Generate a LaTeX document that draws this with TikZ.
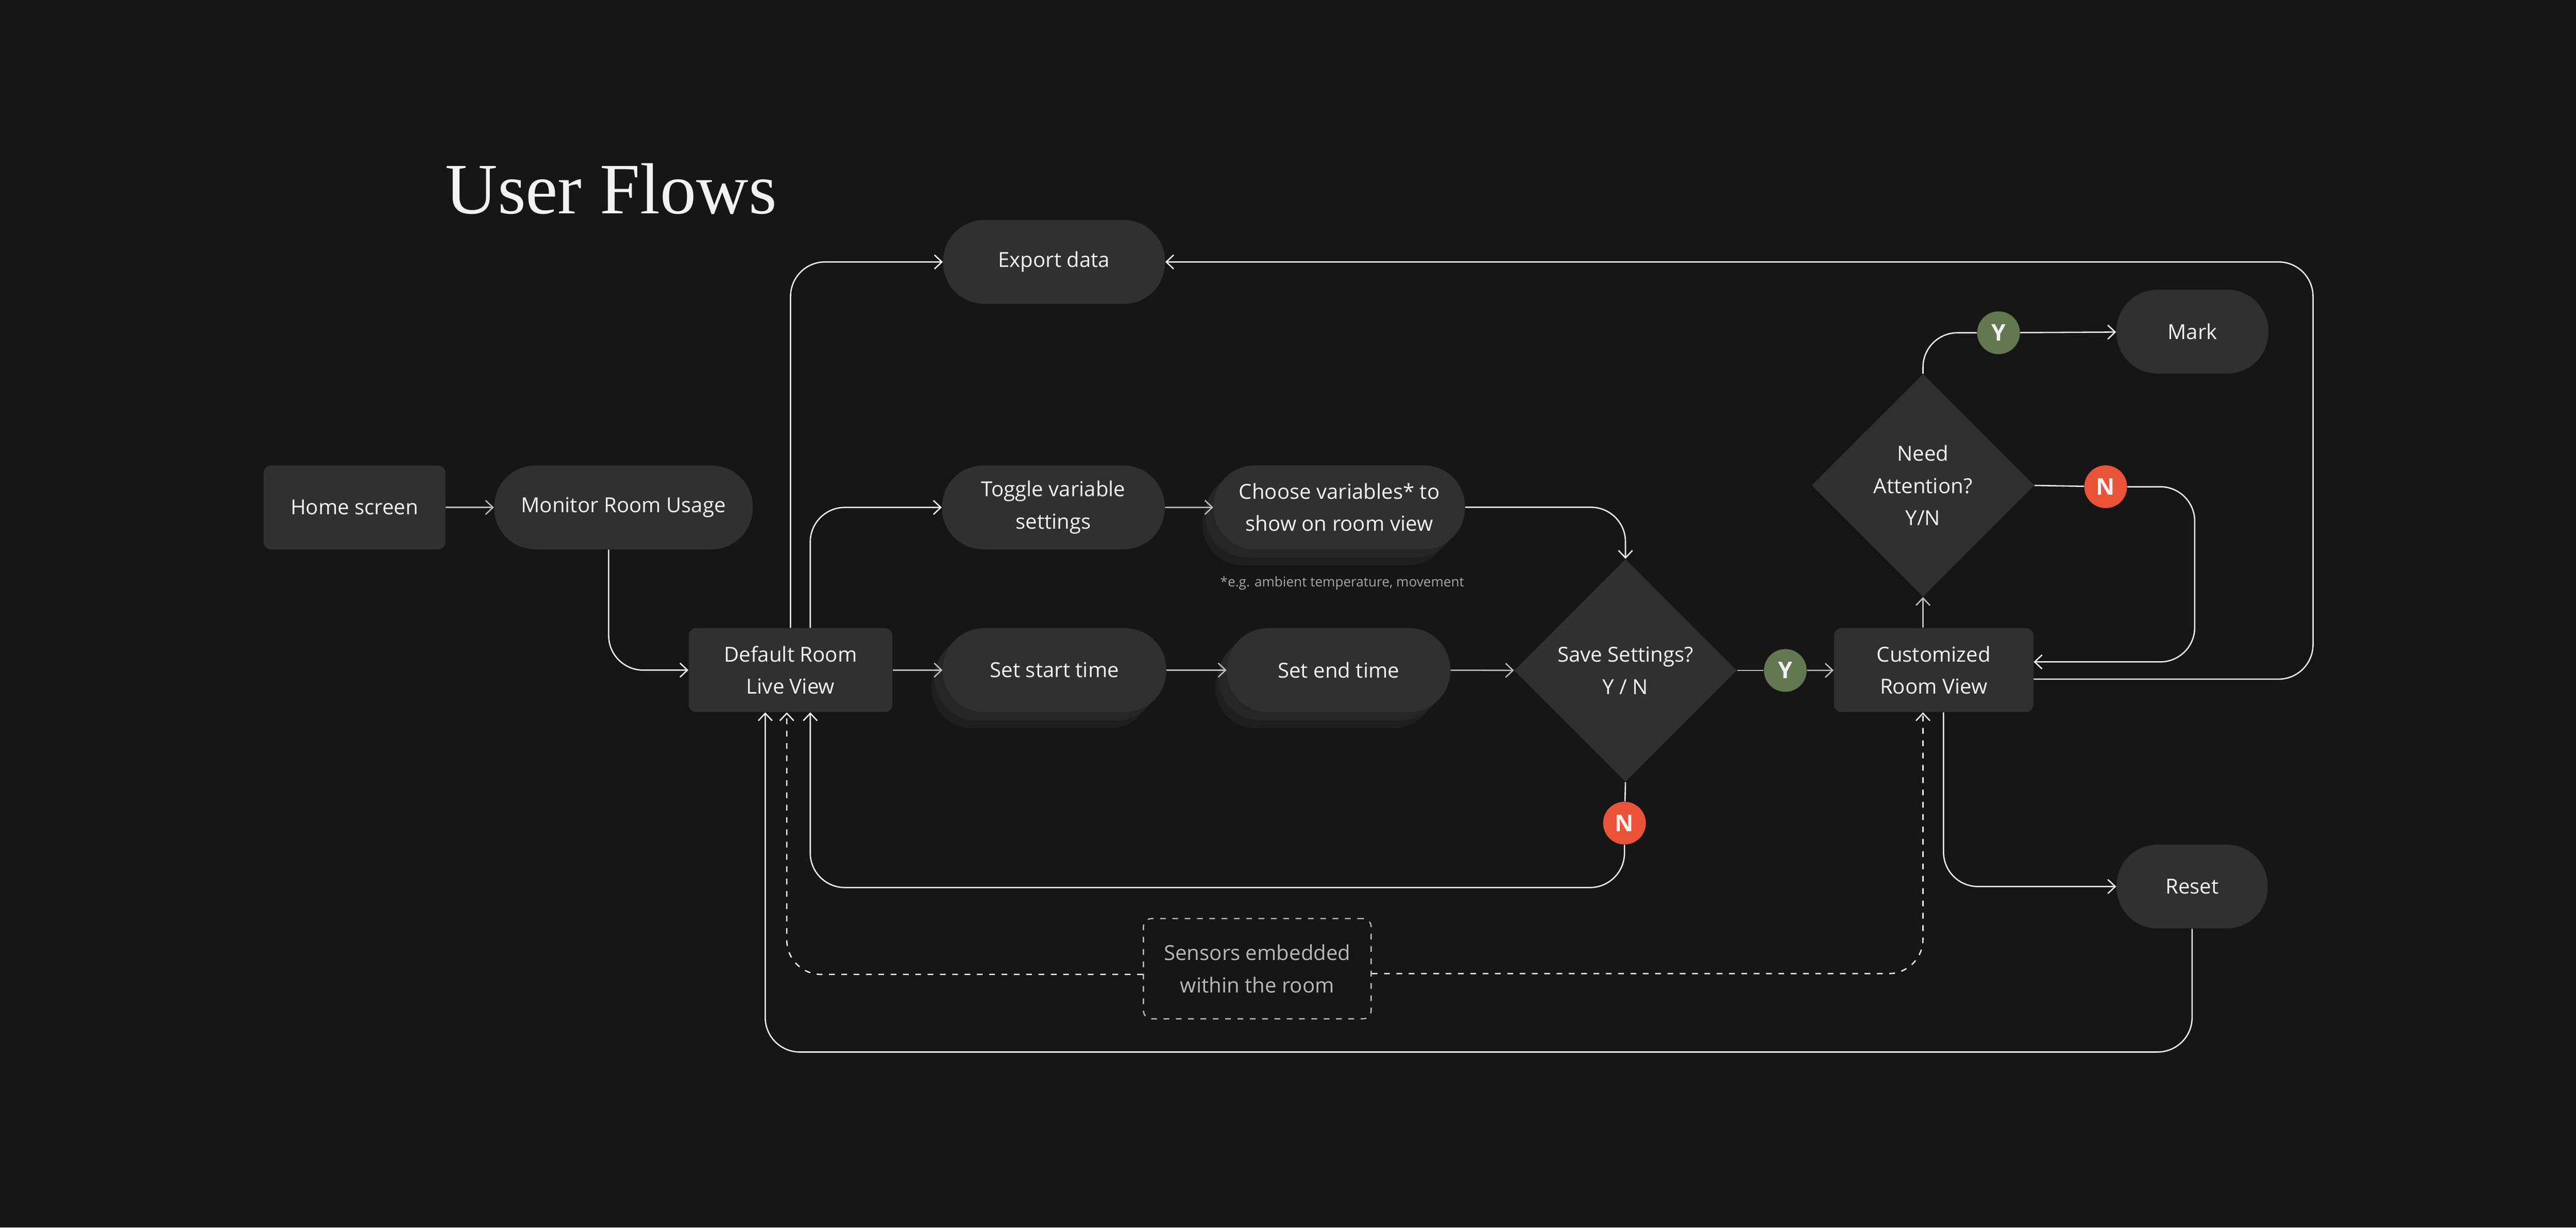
\documentclass[tikz,border=0pt]{standalone}
\usepackage{fontspec}
\setmainfont{Open Sans}
\newfontfamily\titlefont{Liberation Serif}
\usetikzlibrary{arrows.meta,shapes.geometric,shadows}
\definecolor{bg}{HTML}{161616}
\definecolor{nodefill}{HTML}{303030}
\definecolor{shadeA}{HTML}{262626}
\definecolor{shadeB}{HTML}{1F1F1F}
\definecolor{linewhite}{HTML}{F0F0F0}
\definecolor{linegray}{HTML}{BDBDBD}
\definecolor{textwhite}{HTML}{F2F2F2}
\definecolor{dashgray}{HTML}{BEBEBE}
\definecolor{sensorgray}{HTML}{B8B8B8}
\definecolor{notegray}{HTML}{A6A6A6}
\definecolor{yesgreen}{HTML}{637850}
\definecolor{nored}{HTML}{EA5338}
\begin{document}
\begin{tikzpicture}[x=1pt,y=-1pt,
  >={Straight Barb[length=4.5pt,width=8.5pt]},
  every node/.style={text=textwhite,font=\fontsize{12.6}{19.6}\selectfont,align=center,inner sep=0pt},
  box/.style={fill=nodefill,rounded corners=4.5pt,minimum height=51pt},
  pill/.style={fill=nodefill,rounded corners=25pt,minimum height=51pt},
  stack/.style={general shadow={shadow xshift=-8.5pt,shadow yshift=-10.5pt,shadow scale=0.98,fill=shadeB},
    general shadow={shadow xshift=-5pt,shadow yshift=-5pt,fill=shadeA}},
  choice/.style={diamond,fill=nodefill,minimum width=135.5pt,minimum height=135.5pt},
  yes/.style={circle,fill=yesgreen,minimum size=26pt,font=\fontsize{14}{14}\selectfont\bfseries},
  no/.style={circle,fill=nored,minimum size=26pt,font=\fontsize{14}{14}\selectfont\bfseries},
  wline/.style={draw=linewhite,line width=0.8pt,rounded corners=21pt},
  gline/.style={draw=linegray,line width=0.8pt},
  dline/.style={draw=linewhite,line width=0.8pt,dash pattern=on 3.5pt off 4pt,rounded corners=21pt}]
\fill[bg] (0,0) rectangle (1568,747);
\node[anchor=base west,font=\titlefont\fontsize{44}{44}\selectfont] (title) at (271,130) {User Flows};
\node[box,minimum width=110.7pt] (home) at (215.8,308.8) {Home screen};
\node[pill,minimum width=157.3pt] (monitor) at (379.5,308.8) {Monitor Room Usage};
\node[pill,minimum width=135pt] (export) at (641.6,159.4) {Export data};
\node[pill,minimum width=135.5pt] (toggle) at (641.2,308.8) {Toggle variable\\settings};
\node[pill,stack,minimum width=153pt] (choose) at (815.2,308.7) {Choose variables* to\\show on room view};
\node[anchor=base,text=notegray,font=\fontsize{8.2}{8.2}\selectfont] (note) at (817,357) {*e.g. ambient temperature, movement};
\node[box,minimum width=124pt] (default) at (481.2,407.8) {Default Room\\Live View};
\node[pill,stack,minimum width=136pt] (setstart) at (641.9,407.8) {Set start time};
\node[pill,stack,minimum width=136pt] (setend) at (814.8,407.8) {Set end time};
\node[choice] (save) at (989.4,408) {Save Settings?\\Y / N};
\node[yes] (yes1) at (1086.7,408) {Y};
\node[no] (no1) at (988.8,500.9) {N};
\node[box,minimum width=121.4pt] (custom) at (1177,407.8) {Customized\\Room View};
\node[choice] (attn) at (1170.5,295.4) {Need\\Attention?\\Y/N};
\node[yes] (yes2) at (1216.5,202.5) {Y};
\node[no] (no2) at (1281.7,296.2) {N};
\node[pill,minimum width=92.5pt] (mark) at (1334.5,201.8) {Mark};
\node[pill,minimum width=92pt] (reset) at (1334.3,539.5) {Reset};
\node[draw=dashgray,line width=0.75pt,dash pattern=on 3.5pt off 4pt,rounded corners=5pt,minimum width=138.6pt,minimum height=61pt,text=sensorgray] (sensors) at (765.3,589.5) {Sensors embedded\\within the room};
\draw[gline,->] (home) -- (monitor);
\draw[wline,->] ([xshift=-9pt]monitor.south) |- (default.west);
\draw[wline,->] (default.north) |- (export.west);
\draw[wline,->] ([xshift=12pt]default.north) |- (toggle.west);
\draw[gline,->] (default) -- (setstart);
\draw[gline,->] (toggle) -- (choose);
\draw[gline,->] (setstart) -- (setend);
\draw[wline,->] (choose.east) -| (save.north);
\draw[gline,->] (setend) -- (save);
\draw[gline] (save.east) -- (yes1);
\draw[gline,->] (yes1) -- (custom);
\draw[wline] (save.south) -- (no1);
\draw[wline,->] (no1.south) -- ++(0,26) -| ([xshift=12pt]default.south);
\draw[gline,->] (custom.north -| attn) -- (attn.south);
\draw[wline] (attn.north) |- (yes2);
\draw[wline,->] (yes2) -- (mark);
\draw[wline] (attn.east) -- (no2);
\draw[wline,->] (no2.east) -- ++(41,0) |- ([yshift=5pt]custom.east);
\draw[wline,->] ([yshift=-5.5pt]custom.east) -- ++(170,0) |- (export.east);
\draw[wline,->] ([xshift=6pt]custom.south) |- (reset.west);
\draw[wline,->] (reset.south) -- ++(0,75) -| ([xshift=-15.4pt]default.south);
\draw[dline,->] ([yshift=-3.5pt]sensors.west) -| ([xshift=-2.3pt]default.south);
\draw[dline,->] ([yshift=-3pt]sensors.east) -| (custom.south -| attn);
\end{tikzpicture}
\end{document}
